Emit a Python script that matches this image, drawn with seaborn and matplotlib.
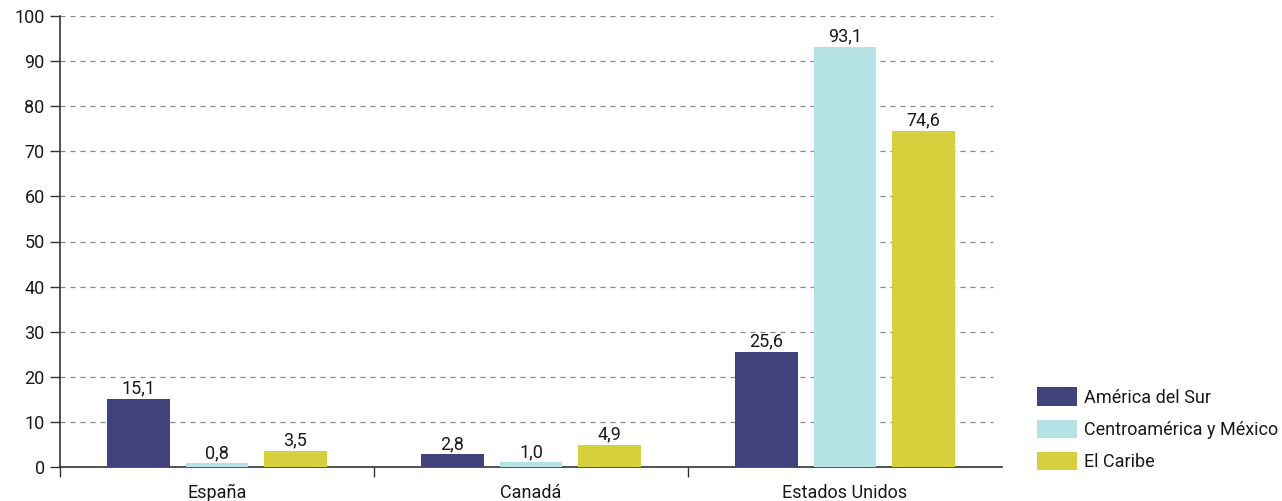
import pandas as pd
import matplotlib
matplotlib.use("Agg")
import matplotlib.pyplot as plt
import seaborn as sns

# data
paises = ["España", "Canadá", "Estados Unidos"]
regiones = ["América del Sur", "Centroamérica y México", "El Caribe"]
america_sur = [15.1, 2.8, 25.6]
centroamerica = [0.8, 1.0, 93.1]
caribe = [3.5, 4.9, 74.6]
colores = ["#40427c", "#b5e2e4", "#d5d03c"]

df = pd.DataFrame({
    "pais": paises * 3,
    "region": [regiones[0]] * 3 + [regiones[1]] * 3 + [regiones[2]] * 3,
    "valor": america_sur + centroamerica + caribe,
})

sns.set_style("white")
plt.rcParams["font.family"] = ["Roboto", "DejaVu Sans"]
plt.rcParams["font.size"] = 13
plt.rcParams["text.color"] = "#1a1a1a"

fig = plt.figure(figsize=(12.82, 5.01), dpi=100)
ax = fig.add_axes([60 / 1282, 34 / 501, 942 / 1282, 451 / 501])

sns.barplot(data=df, x="pais", y="valor", hue="region", hue_order=regiones,
            order=paises, palette=colores, width=0.75, gap=0.2,
            saturation=1, errorbar=None, ax=ax, zorder=3, linewidth=0)

for cont in ax.containers:
    ax.bar_label(cont, labels=[f"{v:.1f}".replace(".", ",") for v in cont.datavalues],
                 padding=1, fontsize=13, color="#1a1a1a")

ax.set_xlim(-0.5, 2.5)
ax.set_ylim(0, 100)
ax.set_yticks(range(0, 101, 10))
ax.set_xlabel("")
ax.set_ylabel("")

# dashed grid, not at zero
for y in range(10, 101, 10):
    ax.axhline(y, color="#888888", linestyle=(0, (4, 4)), linewidth=0.9, zorder=1,
               xmax=0.99)

for s in ["top", "right"]:
    ax.spines[s].set_visible(False)
for s in ["left", "bottom"]:
    ax.spines[s].set_color("#333333")
    ax.spines[s].set_linewidth(1.2)

ax.tick_params(axis="y", direction="out", length=7, width=1, color="#333333",
               labelsize=13, labelcolor="#1a1a1a", pad=4, left=True)
ax.tick_params(axis="x", which="major", length=0, labelsize=13,
               labelcolor="#1a1a1a", pad=12)
ax.set_xticks([-0.5, 0.5, 1.5], minor=True)
ax.tick_params(axis="x", which="minor", direction="out", length=7, width=1,
               color="#333333", bottom=True)

leg = ax.legend(loc="lower left", bbox_to_anchor=(1030 / 1282, 0.045),
                bbox_transform=fig.transFigure, frameon=False, fontsize=13,
                handlelength=2.2, handleheight=1.2, handletextpad=0.4,
                labelspacing=0.72, borderaxespad=0)
ax.get_legend().set_title(None)

fig.savefig("out.png", dpi=100)
